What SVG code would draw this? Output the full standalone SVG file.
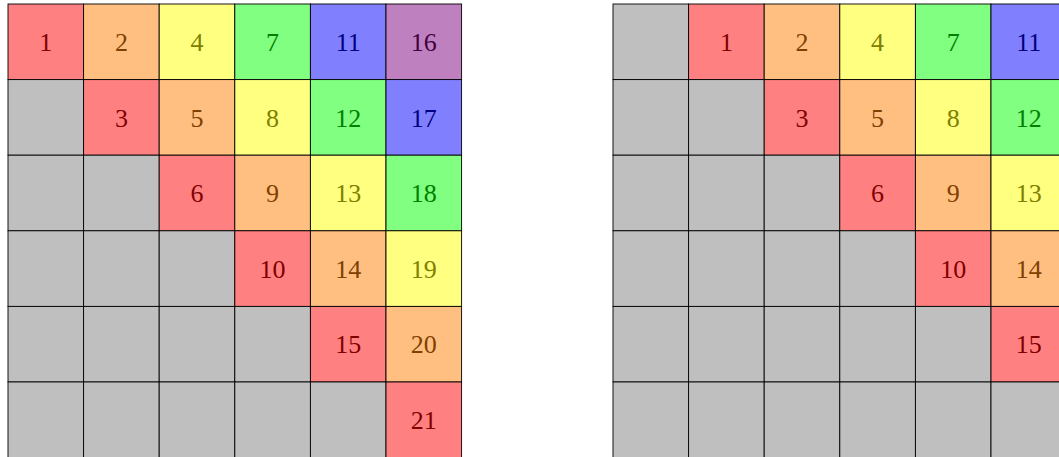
<svg xmlns="http://www.w3.org/2000/svg" width="1059" height="457" viewBox="0 0 1059 457">
<style>
rect{stroke:#000;stroke-width:0.9}
text{font-family:"Liberation Serif","DejaVu Serif",serif;font-size:26px;text-anchor:middle}
.g{fill:#bfbfbf}
.r{fill:#ff8080}.tr{fill:#800000}
.o{fill:#ffbf80}.to{fill:#804000}
.y{fill:#ffff80}.ty{fill:#808000}
.gr{fill:#80ff80}.tg{fill:#008000}
.b{fill:#8080ff}.tb{fill:#000080}
.v{fill:#bf80bf}.tv{fill:#400040}
</style>
<g id="left-grid">
<g id="L-r0c0"><rect class="r" x="8" y="4" width="75.6" height="75.6"/><text class="tr" x="45.8" y="51">1</text></g>
<g id="L-r0c1"><rect class="o" x="83.6" y="4" width="75.6" height="75.6"/><text class="to" x="121.4" y="51">2</text></g>
<g id="L-r0c2"><rect class="y" x="159.2" y="4" width="75.6" height="75.6"/><text class="ty" x="197" y="51">4</text></g>
<g id="L-r0c3"><rect class="gr" x="234.8" y="4" width="75.6" height="75.6"/><text class="tg" x="272.6" y="51">7</text></g>
<g id="L-r0c4"><rect class="b" x="310.4" y="4" width="75.6" height="75.6"/><text class="tb" x="348.2" y="51">11</text></g>
<g id="L-r0c5"><rect class="v" x="386" y="4" width="75.6" height="75.6"/><text class="tv" x="423.8" y="51">16</text></g>

<g id="L-r1c0"><rect class="g" x="8" y="79.6" width="75.6" height="75.6"/></g>
<g id="L-r1c1"><rect class="r" x="83.6" y="79.6" width="75.6" height="75.6"/><text class="tr" x="121.4" y="126.6">3</text></g>
<g id="L-r1c2"><rect class="o" x="159.2" y="79.6" width="75.6" height="75.6"/><text class="to" x="197" y="126.6">5</text></g>
<g id="L-r1c3"><rect class="y" x="234.8" y="79.6" width="75.6" height="75.6"/><text class="ty" x="272.6" y="126.6">8</text></g>
<g id="L-r1c4"><rect class="gr" x="310.4" y="79.6" width="75.6" height="75.6"/><text class="tg" x="348.2" y="126.6">12</text></g>
<g id="L-r1c5"><rect class="b" x="386" y="79.6" width="75.6" height="75.6"/><text class="tb" x="423.8" y="126.6">17</text></g>

<g id="L-r2c0"><rect class="g" x="8" y="155.2" width="75.6" height="75.6"/></g>
<g id="L-r2c1"><rect class="g" x="83.6" y="155.2" width="75.6" height="75.6"/></g>
<g id="L-r2c2"><rect class="r" x="159.2" y="155.2" width="75.6" height="75.6"/><text class="tr" x="197" y="202.2">6</text></g>
<g id="L-r2c3"><rect class="o" x="234.8" y="155.2" width="75.6" height="75.6"/><text class="to" x="272.6" y="202.2">9</text></g>
<g id="L-r2c4"><rect class="y" x="310.4" y="155.2" width="75.6" height="75.6"/><text class="ty" x="348.2" y="202.2">13</text></g>
<g id="L-r2c5"><rect class="gr" x="386" y="155.2" width="75.6" height="75.6"/><text class="tg" x="423.8" y="202.2">18</text></g>

<g id="L-r3c0"><rect class="g" x="8" y="230.8" width="75.6" height="75.6"/></g>
<g id="L-r3c1"><rect class="g" x="83.6" y="230.8" width="75.6" height="75.6"/></g>
<g id="L-r3c2"><rect class="g" x="159.2" y="230.8" width="75.6" height="75.6"/></g>
<g id="L-r3c3"><rect class="r" x="234.8" y="230.8" width="75.6" height="75.6"/><text class="tr" x="272.6" y="277.8">10</text></g>
<g id="L-r3c4"><rect class="o" x="310.4" y="230.8" width="75.6" height="75.6"/><text class="to" x="348.2" y="277.8">14</text></g>
<g id="L-r3c5"><rect class="y" x="386" y="230.8" width="75.6" height="75.6"/><text class="ty" x="423.8" y="277.8">19</text></g>

<g id="L-r4c0"><rect class="g" x="8" y="306.4" width="75.6" height="75.6"/></g>
<g id="L-r4c1"><rect class="g" x="83.6" y="306.4" width="75.6" height="75.6"/></g>
<g id="L-r4c2"><rect class="g" x="159.2" y="306.4" width="75.6" height="75.6"/></g>
<g id="L-r4c3"><rect class="g" x="234.8" y="306.4" width="75.6" height="75.6"/></g>
<g id="L-r4c4"><rect class="r" x="310.4" y="306.4" width="75.6" height="75.6"/><text class="tr" x="348.2" y="353.4">15</text></g>
<g id="L-r4c5"><rect class="o" x="386" y="306.4" width="75.6" height="75.6"/><text class="to" x="423.8" y="353.4">20</text></g>

<g id="L-r5c0"><rect class="g" x="8" y="382" width="75.6" height="75.6"/></g>
<g id="L-r5c1"><rect class="g" x="83.6" y="382" width="75.6" height="75.6"/></g>
<g id="L-r5c2"><rect class="g" x="159.2" y="382" width="75.6" height="75.6"/></g>
<g id="L-r5c3"><rect class="g" x="234.8" y="382" width="75.6" height="75.6"/></g>
<g id="L-r5c4"><rect class="g" x="310.4" y="382" width="75.6" height="75.6"/></g>
<g id="L-r5c5"><rect class="r" x="386" y="382" width="75.6" height="75.6"/><text class="tr" x="423.8" y="429">21</text></g>
</g>

<g id="right-grid">
<g id="R-r0c0"><rect class="g" x="613" y="4" width="75.6" height="75.6"/></g>
<g id="R-r0c1"><rect class="r" x="688.6" y="4" width="75.6" height="75.6"/><text class="tr" x="726.4" y="51">1</text></g>
<g id="R-r0c2"><rect class="o" x="764.2" y="4" width="75.6" height="75.6"/><text class="to" x="802" y="51">2</text></g>
<g id="R-r0c3"><rect class="y" x="839.8" y="4" width="75.6" height="75.6"/><text class="ty" x="877.6" y="51">4</text></g>
<g id="R-r0c4"><rect class="gr" x="915.4" y="4" width="75.6" height="75.6"/><text class="tg" x="953.2" y="51">7</text></g>
<g id="R-r0c5"><rect class="b" x="991" y="4" width="75.6" height="75.6"/><text class="tb" x="1028.8" y="51">11</text></g>

<g id="R-r1c0"><rect class="g" x="613" y="79.6" width="75.6" height="75.6"/></g>
<g id="R-r1c1"><rect class="g" x="688.6" y="79.6" width="75.6" height="75.6"/></g>
<g id="R-r1c2"><rect class="r" x="764.2" y="79.6" width="75.6" height="75.6"/><text class="tr" x="802" y="126.6">3</text></g>
<g id="R-r1c3"><rect class="o" x="839.8" y="79.6" width="75.6" height="75.6"/><text class="to" x="877.6" y="126.6">5</text></g>
<g id="R-r1c4"><rect class="y" x="915.4" y="79.6" width="75.6" height="75.6"/><text class="ty" x="953.2" y="126.6">8</text></g>
<g id="R-r1c5"><rect class="gr" x="991" y="79.6" width="75.6" height="75.6"/><text class="tg" x="1028.8" y="126.6">12</text></g>

<g id="R-r2c0"><rect class="g" x="613" y="155.2" width="75.6" height="75.6"/></g>
<g id="R-r2c1"><rect class="g" x="688.6" y="155.2" width="75.6" height="75.6"/></g>
<g id="R-r2c2"><rect class="g" x="764.2" y="155.2" width="75.6" height="75.6"/></g>
<g id="R-r2c3"><rect class="r" x="839.8" y="155.2" width="75.6" height="75.6"/><text class="tr" x="877.6" y="202.2">6</text></g>
<g id="R-r2c4"><rect class="o" x="915.4" y="155.2" width="75.6" height="75.6"/><text class="to" x="953.2" y="202.2">9</text></g>
<g id="R-r2c5"><rect class="y" x="991" y="155.2" width="75.6" height="75.6"/><text class="ty" x="1028.8" y="202.2">13</text></g>

<g id="R-r3c0"><rect class="g" x="613" y="230.8" width="75.6" height="75.6"/></g>
<g id="R-r3c1"><rect class="g" x="688.6" y="230.8" width="75.6" height="75.6"/></g>
<g id="R-r3c2"><rect class="g" x="764.2" y="230.8" width="75.6" height="75.6"/></g>
<g id="R-r3c3"><rect class="g" x="839.8" y="230.8" width="75.6" height="75.6"/></g>
<g id="R-r3c4"><rect class="r" x="915.4" y="230.8" width="75.6" height="75.6"/><text class="tr" x="953.2" y="277.8">10</text></g>
<g id="R-r3c5"><rect class="o" x="991" y="230.8" width="75.6" height="75.6"/><text class="to" x="1028.8" y="277.8">14</text></g>

<g id="R-r4c0"><rect class="g" x="613" y="306.4" width="75.6" height="75.6"/></g>
<g id="R-r4c1"><rect class="g" x="688.6" y="306.4" width="75.6" height="75.6"/></g>
<g id="R-r4c2"><rect class="g" x="764.2" y="306.4" width="75.6" height="75.6"/></g>
<g id="R-r4c3"><rect class="g" x="839.8" y="306.4" width="75.6" height="75.6"/></g>
<g id="R-r4c4"><rect class="g" x="915.4" y="306.4" width="75.6" height="75.6"/></g>
<g id="R-r4c5"><rect class="r" x="991" y="306.4" width="75.6" height="75.6"/><text class="tr" x="1028.8" y="353.4">15</text></g>

<g id="R-r5c0"><rect class="g" x="613" y="382" width="75.6" height="75.6"/></g>
<g id="R-r5c1"><rect class="g" x="688.6" y="382" width="75.6" height="75.6"/></g>
<g id="R-r5c2"><rect class="g" x="764.2" y="382" width="75.6" height="75.6"/></g>
<g id="R-r5c3"><rect class="g" x="839.8" y="382" width="75.6" height="75.6"/></g>
<g id="R-r5c4"><rect class="g" x="915.4" y="382" width="75.6" height="75.6"/></g>
<g id="R-r5c5"><rect class="g" x="991" y="382" width="75.6" height="75.6"/></g>
</g>
<g id="connectors"/>
</svg>
